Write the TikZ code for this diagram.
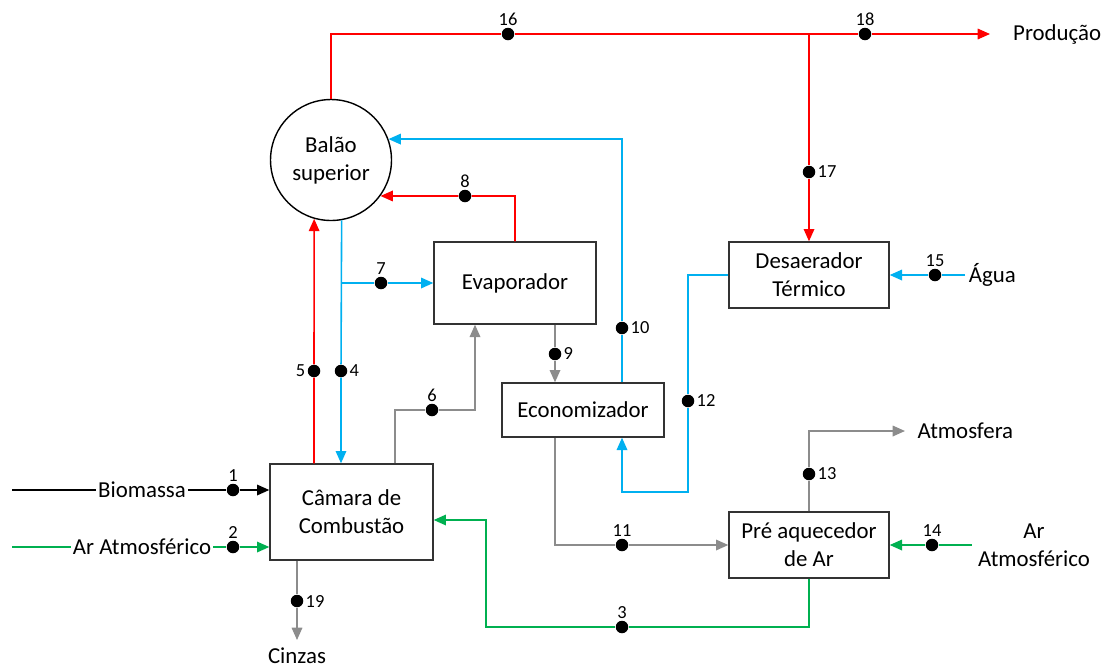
\documentclass[tikz,border=0pt]{standalone}
\usepackage{fontspec}
\setmainfont{Carlito}
\usepackage{xcolor}
\usepackage{tikz}
\usetikzlibrary{arrows.meta,positioning,calc}
\definecolor{clrSteam}{HTML}{FF0000}
\definecolor{clrWater}{HTML}{00B0F0}
\definecolor{clrAir}{HTML}{00B050}
\definecolor{clrGas}{HTML}{8C8C8C}
\tikzset{
  unitbox/.style={rectangle, draw=black!80, line width=0.8pt, fill=white,
    align=center, font=\fontsize{13}{16}\selectfont},
  drum/.style={circle, draw=black, line width=0.8pt, minimum size=2.42cm,
    align=center, font=\fontsize{13}{16}\selectfont},
  flow/.style={line width=0.9pt},
  flowarr/.style={flow, -{Triangle[length=7pt,width=6pt]}},
  dot/.style={circle, fill=black, inner sep=0pt, minimum size=0.25cm},
  num/.style={font=\fontsize{10.5}{12}\selectfont, inner sep=1pt},
  tag/.style={font=\fontsize{13}{16}\selectfont, align=center},
}

\begin{document}
\begin{tikzpicture}[x=0.02cm, y=-0.02cm]
\useasboundingbox (0,0) rectangle (1104,667);

\def\ytop{34}     % linha de vapor
\def\yar{545}     % linha do ar

% equipamentos
\node[drum] (bal) at (331,160) {Balão\\superior};
\node[unitbox, minimum width=3.26cm, minimum height=1.92cm] (cam) at (351.5,512)
  {Câmara de\\Combustão};
\node[unitbox, minimum width=3.24cm, minimum height=1.64cm] (evap) at (515,283)
  {Evaporador};
\node[unitbox, minimum width=3.24cm, minimum height=1.08cm] (econ) at (583,410)
  {Economizador};
\node[unitbox, minimum width=3.20cm, minimum height=1.32cm] (desa) at (809,275)
  {Desaerador\\Térmico};
\node[unitbox, minimum width=3.20cm, minimum height=1.32cm] (pre) at (809,\yar)
  {Pré aquecedor\\de Ar};

% pontos de estado
\foreach \n/\xy/\pos in {1/{233,490}/above, 2/{233,547}/above, 3/{622,627}/above,
    4/{341,371}/right, 5/{314,371}/left, 6/{432,410}/above, 7/{381,283}/above,
    8/{465,196}/above, 9/{555,354}/right, 10/{622,328}/right, 11/{622,\yar}/above,
    12/{688,401}/right, 13/{809,474}/right, 14/{932,\yar}/above, 15/{935,275}/above,
    16/{508,\ytop}/above, 17/{809,172}/right, 18/{865,\ytop}/above, 19/{297,601}/right}{
  \node[dot, label={[num]\pos:\n}] (p\n) at (\xy) {};
}

% entradas e saidas
\node[tag, anchor=west, inner xsep=13pt] (prod) at (990,\ytop) {Produção};
\node[tag, anchor=west, inner xsep=2pt] (agua) at (965,275) {Água};
\node[tag, anchor=west, inner xsep=7pt] (atm) at (905,431) {Atmosfera};
\node[tag] (arR) at (1034,\yar) {Ar\\Atmosférico};
\node[tag, anchor=north, inner xsep=1pt, inner ysep=4.5pt] (cinz) at (297,640) {Cinzas};
\coordinate (bioIn) at (12,490);
\coordinate (arIn) at (12,547);
\coordinate (k12) at (688,492);
\coordinate (k3) at (486,520);

% vapor
\draw[flowarr, clrSteam] (bal.north) |- (p16) -- (p18) -- (prod.west);
\draw[flowarr, clrSteam] (desa.north |- p16) -- (p17) -- (desa.north);
\draw[flowarr, clrSteam] (evap.north) |- (p8) -- (bal.-36);
\draw[flowarr, clrSteam] (cam.north -| p5) -- (p5) -- (bal.-106);

% agua
\draw[flowarr, clrWater] (agua.west) -- (p15) -- (desa.east);
\draw[flowarr, clrWater] (desa.west) -| (p12) -- (k12) -| (econ.south -| p10);
\draw[flowarr, clrWater] (econ.north -| p10) -- (p10) |- (bal.20);
\draw[flowarr, clrWater] (bal.-80) -- (p4) -- (cam.north -| p4);
\draw[flowarr, clrWater] (p4 |- evap.west) -- (p7) -- (evap.west);

% gases
\draw[flowarr, clrGas] ($(cam.north)+(43.5,0)$) |- (p6) -| ($(evap.south)+(-40,0)$);
\draw[flowarr, clrGas] ($(evap.south)+(40,0)$) -- (p9) -- (econ.north -| p9);
\draw[flowarr, clrGas] (econ.south -| p9) |- (p11) -- (pre.west);
\draw[flowarr, clrGas] (pre.north) -- (p13) |- (atm.west);
\draw[flowarr, clrGas] (cam.south -| p19) -- (p19) -- (cinz.north);

% ar
\draw[flowarr, clrAir] (arR.west) -- (p14) -- (pre.east);
\draw[flowarr, clrAir] (pre.south) |- (p3) -| (k3) -- (cam.east |- k3);
\draw[flowarr, clrAir] (arIn) -- (p2) -- (cam.west |- p2);
\draw[flowarr, black] (bioIn) -- (p1) -- (cam.west |- p1);

% rotulos sobre as linhas
\node[tag, fill=white, inner xsep=1pt, inner ysep=0pt] (bio) at (142,490) {Biomassa};
\node[tag, fill=white, inner xsep=1pt, inner ysep=0pt] (arL) at (142,547) {Ar Atmosférico};

\end{tikzpicture}
\end{document}
